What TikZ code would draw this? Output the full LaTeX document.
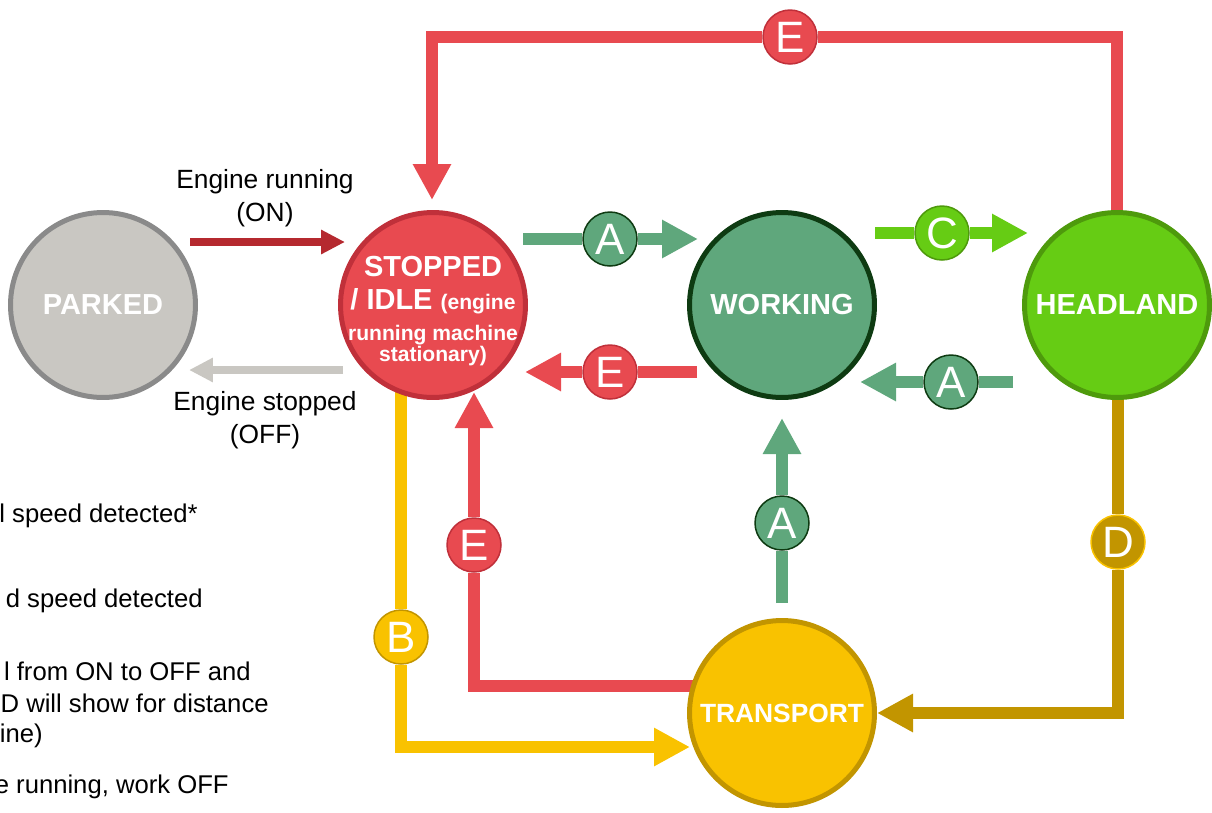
\documentclass[tikz,border=0pt]{standalone}
\usepackage{fontspec}
\setmainfont{Liberation Sans}
\usetikzlibrary{arrows.meta,backgrounds}

\definecolor{parkfill}{HTML}{C9C7C2}
\definecolor{parkedge}{HTML}{8A8A8A}
\definecolor{idlefill}{HTML}{E84A50}
\definecolor{idleedge}{HTML}{C0303A}
\definecolor{onred}{HTML}{B5292F}
\definecolor{workfill}{HTML}{5FA77C}
\definecolor{workedge}{HTML}{0E3B12}
\definecolor{headfill}{HTML}{66CC14}
\definecolor{headedge}{HTML}{4E9A0C}
\definecolor{transfill}{HTML}{F9C200}
\definecolor{transedge}{HTML}{C29500}

\newcommand{\bigbold}{\fontsize{16.5}{19}\selectfont}
\newcommand{\smallbold}{\fontsize{12}{13}\selectfont}

\begin{document}
\begin{tikzpicture}[x=0.02cm, y=-0.02cm,
    state/.style={circle, minimum size=3.7cm, inner sep=0pt, line width=0.1cm, text=white, align=center, font=\bigbold\bfseries},
    badge/.style={circle, minimum size=1.08cm, inner sep=0pt, line width=0.03cm, text=white, font=\fontsize{25}{25}\selectfont},
    link/.style={line width=0.23cm, -{Triangle[length=0.72cm,width=0.72cm]}},
    engine/.style={line width=0.15cm, -{Triangle[length=0.48cm,width=0.46cm]}},
    note/.style={align=center, font=\fontsize{15}{18.5}\selectfont},
    side/.style={anchor=east, inner sep=0pt, font=\fontsize{14.6}{18}\selectfont}]
  \useasboundingbox (0,0) rectangle (1212,812);

  \node[state, fill=parkfill, draw=parkedge] (parked) at (103,305) {PARKED};
  \node[state, fill=idlefill, draw=idleedge] (idle) at (433,305) {};
  \node[align=center, inner sep=0pt, text=white, font=\bfseries] (idletext) at (433,311)
    {\bigbold STOPPED\\[5.4pt]
     \bigbold / IDLE {\smallbold(engine}\\[5.6pt]
     \smallbold running machine\\[0pt]
     \smallbold stationary)};
  \node[state, fill=workfill, draw=workedge] (working) at (782,305) {WORKING};
  \node[state, fill=headfill, draw=headedge] (headland) at (1117,305) {HEADLAND};
  \node[state, fill=transfill, draw=transedge, font=\fontsize{15}{18}\selectfont\bfseries] (transport) at (782,713) {TRANSPORT};

  \node[badge, fill=workfill, draw=workedge] (a1) at (610,239) {A};
  \node[badge, fill=headfill, draw=headedge] (c1) at (942,233) {C};
  \node[badge, fill=idlefill, draw=idleedge] (e1) at (610,372) {E};
  \node[badge, fill=workfill, draw=workedge] (a2) at (951,382) {A};
  \node[badge, fill=idlefill, draw=idleedge] (e2) at (790,37) {E};
  \node[badge, fill=workfill, draw=workedge] (a3) at (782,523) {A};
  \node[badge, fill=idlefill, draw=idleedge] (e3) at (474,545) {E};
  \node[badge, fill=transfill, draw=transedge] (b1) at (401,637) {B};
  \node[badge, fill=transedge, draw=transfill] (d1) at (1118,542) {D};

  \coordinate (onfrom) at (190,242);
  \coordinate (onto) at (345,242);
  \coordinate (offfrom) at (343,370);
  \coordinate (offto) at (189,370);
  \coordinate (a1from) at (523,239);
  \coordinate (a1to) at (698,239);
  \coordinate (c1from) at (875,233);
  \coordinate (c1to) at (1028,233);
  \coordinate (e1from) at (697,372);
  \coordinate (e1to) at (525,372);
  \coordinate (a2from) at (1013,382);
  \coordinate (a2to) at (860,382);
  \coordinate (e2to) at (432,200);
  \coordinate (a3from) at (782,603);
  \coordinate (a3to) at (782,418);
  \coordinate (e3from) at (700,686);
  \coordinate (e3to) at (474,392);
  \coordinate (b1from) at (401,390);
  \coordinate (b1to) at (690,747);
  \coordinate (d1from) at (1118,395);
  \coordinate (d1to) at (877,713);

  \begin{pgfonlayer}{background}
    \draw[engine, onred] (onfrom) -- (onto);
    \draw[engine, parkfill] (offfrom) -- (offto);
    \draw[link, workfill] (a1from) -- (a1) -- (a1to);
    \draw[link, headfill] (c1from) -- (c1) -- (c1to);
    \draw[link, idlefill] (e1from) -- (e1) -- (e1to);
    \draw[link, workfill] (a2from) -- (a2) -- (a2to);
    \draw[link, idlefill] (headland) |- (e2) -| (e2to);
    \draw[link, workfill] (a3from) -- (a3) -- (a3to);
    \draw[link, idlefill] (e3from) -| (e3) -- (e3to);
    \draw[link, transfill] (b1from) -- (b1) |- (b1to);
    \draw[link, transedge] (d1from) -- (d1) |- (d1to);
  \end{pgfonlayer}

  \node[note] (ontext) at (265,198) {Engine running\\(ON)};
  \node[note] (offtext) at (265,420) {Engine stopped\\(OFF)};

  \node[side] (key1) at (198,516) {l speed detected*};
  \node[side] (key2) at (203,601) {d speed detected};
  \node[side] (key3) at (251,671) {l from ON to OFF and};
  \node[side] (key4) at (269,703) {D will show for distance};
  \node[side] (key5) at (43,736) {ine)};
  \node[side] (key6) at (229,787) {e running, work OFF};
\end{tikzpicture}
\end{document}
